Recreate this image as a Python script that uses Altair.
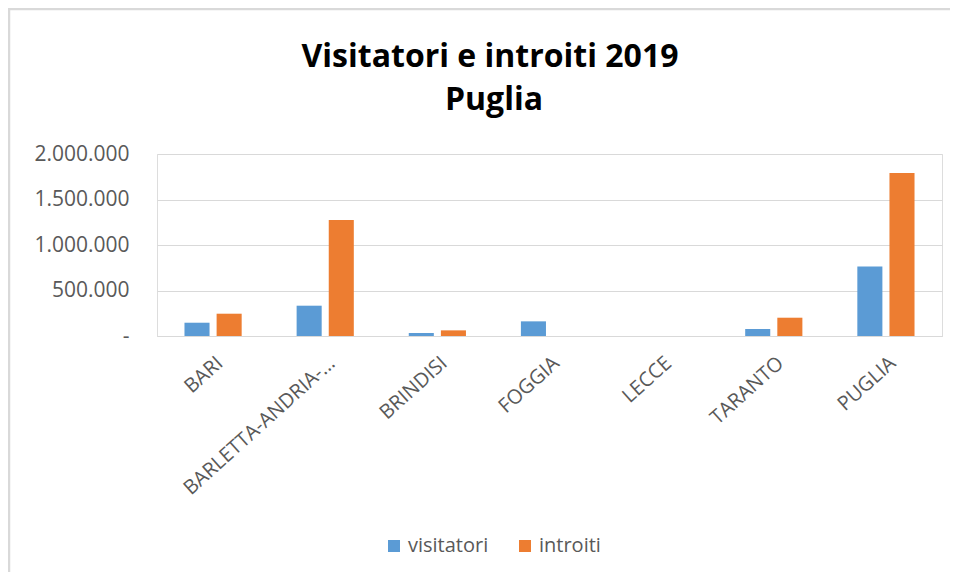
import altair as alt
import pandas as pd

categories = ["BARI", "BARLETTA-ANDRIA-...", "BRINDISI", "FOGGIA", "LECCE", "TARANTO", "PUGLIA"]
visitatori = [146000, 333000, 33000, 161000, 0, 77000, 765000]
introiti = [245000, 1275000, 62000, 0, 0, 201000, 1790000]
series = ["visitatori", "introiti"]
colors = ["#5B9BD5", "#ED7D31"]
title_lines = ["Visitatori e introiti 2019", "Puglia"]

rows = []
for c, v, i in zip(categories, visitatori, introiti):
    rows.append({"cat": c, "serie": "visitatori", "val": v})
    rows.append({"cat": c, "serie": "introiti", "val": i})
df = pd.DataFrame(rows)

FONT = "Open Sans"
GREY = "#595959"

bars = alt.Chart(df).mark_bar().encode(
    x=alt.X("cat:N", sort=categories, title=None,
            scale=alt.Scale(paddingInner=0.49, paddingOuter=0.245),
            axis=alt.Axis(labelAngle=-42, labelAlign="right", labelBaseline="middle",
                          labelPadding=24, labelOffset=7, labelLimit=0,
                          ticks=False, domainColor="#d9d9d9",
                          labelFont=FONT, labelFontSize=20, labelColor=GREY, grid=False)),
    xOffset=alt.XOffset("serie:N", sort=series,
                        scale=alt.Scale(paddingInner=0.22, paddingOuter=0)),
    y=alt.Y("val:Q", title=None,
            scale=alt.Scale(domain=[0, 2000000], nice=False),
            axis=alt.Axis(values=[0, 500000, 1000000, 1500000, 2000000],
                          labelExpr="datum.value == 0 ? '-  ' : join(split(format(datum.value, ','), ','), '.')",
                          labelPadding=28, ticks=False, domain=False,
                          gridColor="#d9d9d9", gridWidth=1,
                          labelFont=FONT, labelFontSize=21, labelColor=GREY)),
    color=alt.Color("serie:N", sort=series,
                    scale=alt.Scale(domain=series, range=colors),
                    legend=alt.Legend(title=None, orient="none", legendX=227, legendY=382,
                                      direction="horizontal", columns=2, columnPadding=26,
                                      symbolType="square", symbolSize=144, symbolStrokeWidth=0,
                                      labelFont=FONT, labelFontSize=20, labelColor=GREY,
                                      labelOffset=4)),
)

t1 = alt.Chart(pd.DataFrame({"t": [title_lines[0]]})).mark_text(
    font=FONT, fontSize=32, fontWeight="bold", color="black", align="center",
    baseline="alphabetic").encode(text="t:N", x=alt.value(333), y=alt.value(-87))
t2 = alt.Chart(pd.DataFrame({"t": [title_lines[1]]})).mark_text(
    font=FONT, fontSize=32, fontWeight="bold", color="black", align="center",
    baseline="alphabetic").encode(text="t:N", x=alt.value(337), y=alt.value(-44))

frame_df = pd.DataFrame({"a": [0]})
top_border = alt.Chart(frame_df).mark_rule(color="#d9d9d9", strokeWidth=2.5).encode(
    x=alt.value(-148), x2=alt.value(805), y=alt.value(-145))
left_border = alt.Chart(frame_df).mark_rule(color="#d9d9d9", strokeWidth=2.5).encode(
    x=alt.value(-148), y=alt.value(-146), y2=alt.value(430))

chart = alt.layer(bars, t1, t2, top_border, left_border).properties(
    width=785, height=182,
    autosize=alt.AutoSizeParams(type="none"),
    padding={"left": 149, "top": 146, "right": 8, "bottom": 236},
).configure_view(stroke=None).configure(background="white")

chart.save("out.html", embed_options={"renderer": "svg", "actions": False})
